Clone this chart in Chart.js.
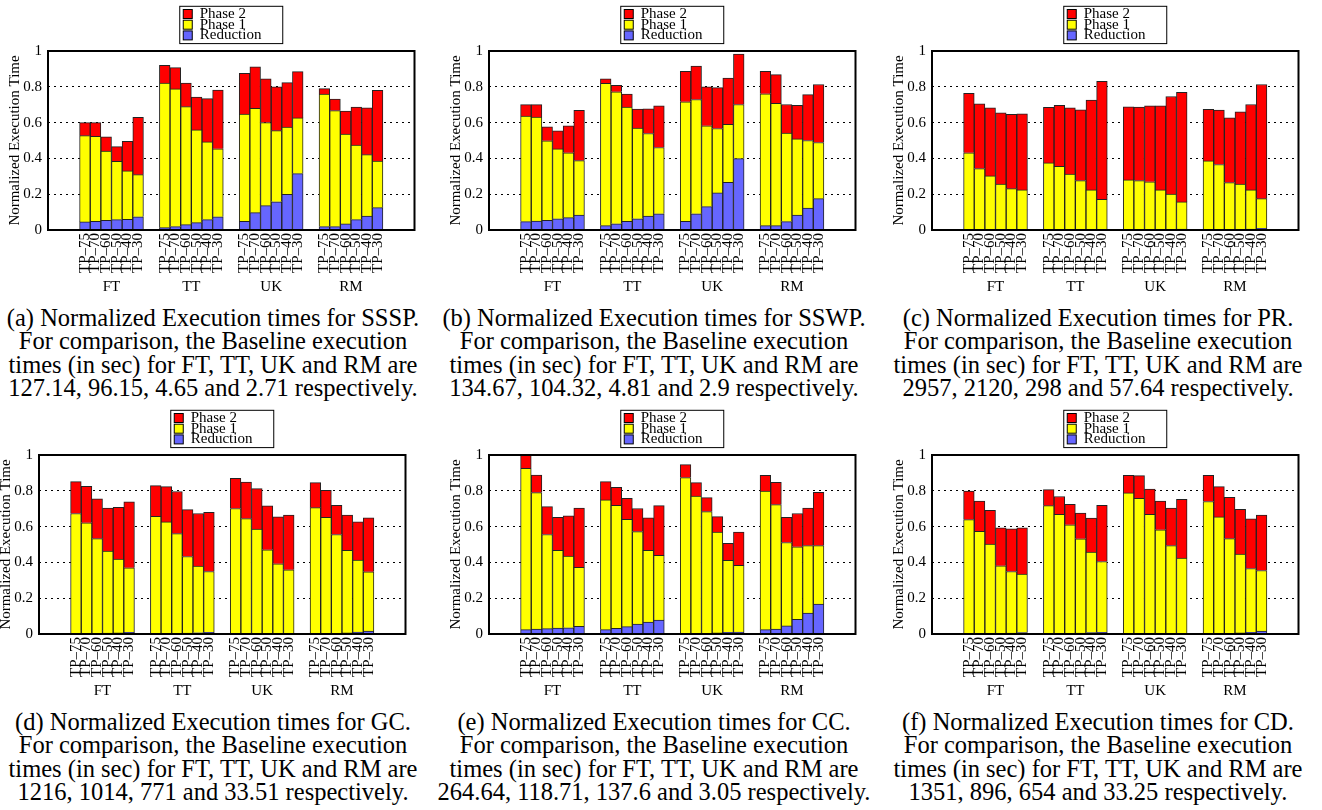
<!DOCTYPE html>
<html>
<head>
<meta charset="utf-8">
<script src="https://cdn.jsdelivr.net/npm/chart.js@4.4.1/dist/chart.umd.min.js"></script>
<style>
  body { margin: 0; background: #fff; width: 1322px; height: 810px; overflow: hidden; position: relative; }
  .panel { position: absolute; width: 440px; height: 300px; }
  .caption { position: absolute; width: 480px; text-align: center; font-family: 'Liberation Serif', serif; font-size: 24.5px; line-height: 23.3px; color: #000; white-space: nowrap; }
</style>
</head>
<body>
<div class="panel" style="left:0px;top:0px"><canvas id="cSSSP" width="440" height="300"></canvas></div>
<div class="panel" style="left:441px;top:0px"><canvas id="cSSWP" width="440" height="300"></canvas></div>
<div class="panel" style="left:884px;top:0px"><canvas id="cPR" width="440" height="300"></canvas></div>
<div class="panel" style="left:-9px;top:404px"><canvas id="cGC" width="440" height="300"></canvas></div>
<div class="panel" style="left:441px;top:404px"><canvas id="cCC" width="440" height="300"></canvas></div>
<div class="panel" style="left:884px;top:404px"><canvas id="cCD" width="440" height="300"></canvas></div>

<div class="caption" style="left:-27px;top:306px">(a) Normalized Execution times for SSSP.<br>For comparison, the Baseline execution<br>times (in sec) for FT, TT, UK and RM are<br>127.14, 96.15, 4.65 and 2.71 respectively.</div>
<div class="caption" style="left:414px;top:306px">(b) Normalized Execution times for SSWP.<br>For comparison, the Baseline execution<br>times (in sec) for FT, TT, UK and RM are<br>134.67, 104.32, 4.81 and 2.9 respectively.</div>
<div class="caption" style="left:858px;top:306px">(c) Normalized Execution times for PR.<br>For comparison, the Baseline execution<br>times (in sec) for FT, TT, UK and RM are<br>2957, 2120, 298 and 57.64 respectively.</div>
<div class="caption" style="left:-27px;top:710px">(d) Normalized Execution times for GC.<br>For comparison, the Baseline execution<br>times (in sec) for FT, TT, UK and RM are<br>1216, 1014, 771 and 33.51 respectively.</div>
<div class="caption" style="left:414px;top:710px">(e) Normalized Execution times for CC.<br>For comparison, the Baseline execution<br>times (in sec) for FT, TT, UK and RM are<br>264.64, 118.71, 137.6 and 3.05 respectively.</div>
<div class="caption" style="left:858px;top:710px">(f) Normalized Execution times for CD.<br>For comparison, the Baseline execution<br>times (in sec) for FT, TT, UK and RM are<br>1351, 896, 654 and 33.25 respectively.</div>

<script>
const graphs = ['FT', 'TT', 'UK', 'RM'];
const thresholds = ['TP–75', 'TP–70', 'TP–60', 'TP–50', 'TP–40', 'TP–30'];
const seriesNames = ['Reduction', 'Phase 1', 'Phase 2'];
const seriesColors = ['#6666ff', '#ffff00', '#ff0000'];

// each array: FT x6, TT x6, UK x6, RM x6 (segment heights, stacked)
const ssspRed = [0.045, 0.048, 0.054, 0.058, 0.06, 0.074,  0.013, 0.019, 0.03, 0.041, 0.058, 0.074,  0.048, 0.097, 0.136, 0.158, 0.199, 0.315,  0.019, 0.019, 0.034, 0.058, 0.078, 0.125];
const ssspP1  = [0.482, 0.475, 0.387, 0.326, 0.27, 0.235,  0.808, 0.769, 0.659, 0.518, 0.434, 0.38,  0.6, 0.583, 0.464, 0.397, 0.376, 0.311,  0.741, 0.648, 0.502, 0.417, 0.343, 0.26];
const ssspP2  = [0.073, 0.077, 0.08, 0.082, 0.165, 0.321,  0.099, 0.119, 0.132, 0.184, 0.242, 0.328,  0.227, 0.232, 0.245, 0.245, 0.248, 0.259,  0.03, 0.065, 0.129, 0.212, 0.262, 0.395];

const sswpRed = [0.047, 0.05, 0.054, 0.063, 0.069, 0.084,  0.024, 0.035, 0.049, 0.063, 0.078, 0.091,  0.048, 0.091, 0.131, 0.207, 0.267, 0.399,  0.024, 0.024, 0.047, 0.084, 0.123, 0.175];
const sswpP1  = [0.589, 0.581, 0.444, 0.39, 0.362, 0.304,  0.795, 0.737, 0.638, 0.506, 0.461, 0.37,  0.668, 0.638, 0.451, 0.36, 0.323, 0.302,  0.737, 0.683, 0.494, 0.425, 0.377, 0.314];
const sswpP2  = [0.064, 0.069, 0.078, 0.101, 0.151, 0.28,  0.026, 0.036, 0.072, 0.106, 0.138, 0.233,  0.17, 0.187, 0.218, 0.228, 0.259, 0.282,  0.125, 0.161, 0.16, 0.187, 0.256, 0.324];

const prRed = [0.001, 0.001, 0.001, 0.001, 0.001, 0.001,  0.001, 0.001, 0.001, 0.001, 0.002, 0.003,  0.001, 0.001, 0.001, 0.002, 0.003, 0.005,  0.001, 0.001, 0.002, 0.003, 0.005, 0.01];
const prP1  = [0.43, 0.342, 0.301, 0.256, 0.23, 0.223,  0.374, 0.355, 0.312, 0.275, 0.222, 0.169,  0.279, 0.275, 0.268, 0.222, 0.198, 0.152,  0.385, 0.365, 0.263, 0.254, 0.219, 0.165];
const prP2  = [0.332, 0.362, 0.381, 0.398, 0.415, 0.425,  0.31, 0.34, 0.37, 0.396, 0.502, 0.658,  0.408, 0.411, 0.425, 0.47, 0.545, 0.612,  0.288, 0.304, 0.362, 0.403, 0.477, 0.638];

const gcRed = [0.002, 0.002, 0.003, 0.005, 0.006, 0.009,  0.002, 0.002, 0.003, 0.005, 0.007, 0.01,  0.001, 0.001, 0.001, 0.001, 0.001, 0.001,  0.001, 0.001, 0.003, 0.006, 0.011, 0.016];
const gcP1  = [0.671, 0.619, 0.53, 0.458, 0.412, 0.361,  0.656, 0.624, 0.558, 0.428, 0.372, 0.339,  0.7, 0.644, 0.585, 0.469, 0.391, 0.358,  0.705, 0.651, 0.553, 0.462, 0.402, 0.332];
const gcP2  = [0.178, 0.204, 0.222, 0.241, 0.29, 0.368,  0.171, 0.197, 0.235, 0.262, 0.294, 0.331,  0.169, 0.204, 0.226, 0.246, 0.262, 0.305,  0.14, 0.151, 0.163, 0.196, 0.213, 0.301];

const ccRed = [0.024, 0.028, 0.03, 0.033, 0.035, 0.043,  0.024, 0.032, 0.041, 0.056, 0.067, 0.078,  0.002, 0.003, 0.004, 0.006, 0.009, 0.011,  0.024, 0.028, 0.045, 0.082, 0.117, 0.167];
const ccP1  = [0.902, 0.762, 0.526, 0.434, 0.4, 0.329,  0.725, 0.687, 0.6, 0.516, 0.4, 0.361,  0.872, 0.767, 0.68, 0.563, 0.402, 0.372,  0.775, 0.695, 0.466, 0.405, 0.377, 0.327];
const ccP2  = [0.074, 0.098, 0.156, 0.185, 0.225, 0.331,  0.102, 0.101, 0.117, 0.129, 0.182, 0.278,  0.072, 0.076, 0.078, 0.087, 0.095, 0.186,  0.088, 0.125, 0.141, 0.186, 0.209, 0.298];

const cdRed = [0.001, 0.001, 0.002, 0.003, 0.005, 0.008,  0.002, 0.002, 0.003, 0.005, 0.008, 0.01,  0.001, 0.001, 0.001, 0.001, 0.001, 0.001,  0.001, 0.001, 0.002, 0.006, 0.01, 0.016];
const cdP1  = [0.638, 0.573, 0.5, 0.378, 0.344, 0.327,  0.715, 0.667, 0.607, 0.527, 0.449, 0.395,  0.787, 0.757, 0.668, 0.581, 0.493, 0.423,  0.739, 0.653, 0.531, 0.44, 0.356, 0.339];
const cdP2  = [0.16, 0.169, 0.189, 0.212, 0.238, 0.258,  0.09, 0.099, 0.115, 0.143, 0.19, 0.314,  0.099, 0.127, 0.14, 0.161, 0.21, 0.329,  0.147, 0.169, 0.231, 0.251, 0.277, 0.309];

// x slots: 2.25 margin, 6 bars per group, 1.5 gap between groups
const barPos = [];
const groupCenters = [];
graphs.forEach((g, gi) => {
  groupCenters.push(2.25 + gi * 7.5 + 3);
  thresholds.forEach((t, ti) => barPos.push(2.75 + gi * 7.5 + ti));
});

const serif = 'Liberation Serif';

const framePlugin = {
  id: 'frame',
  afterDatasetsDraw(chart) {
    const { ctx, chartArea: a } = chart;
    ctx.save();
    ctx.strokeStyle = '#000';
    ctx.lineWidth = 2;
    ctx.strokeRect(a.left, a.top, a.right - a.left, a.bottom - a.top);
    ctx.restore();
  }
};

const extrasPlugin = {
  id: 'extras',
  afterDraw(chart) {
    const { ctx, chartArea: a, scales } = chart;
    ctx.save();
    // group names under the tick labels
    ctx.font = '15px "' + serif + '"';
    ctx.fillStyle = '#000';
    ctx.textAlign = 'center';
    ctx.textBaseline = 'middle';
    groupCenters.forEach((c, i) => {
      ctx.fillText(graphs[i], scales.x.getPixelForValue(c), a.bottom + 57);
    });
    // boxed legend above the plot
    const w = 103, h = 37.3;
    const x0 = (a.left + a.right) / 2 - w / 2;
    const y0 = a.top - 44.7;
    ctx.fillStyle = '#fff';
    ctx.fillRect(x0, y0, w, h);
    ctx.strokeStyle = '#000';
    ctx.lineWidth = 1;
    ctx.strokeRect(x0, y0, w, h);
    ctx.textAlign = 'left';
    chart.data.datasets.slice().reverse().forEach((ds, i) => {
      const yc = y0 + 7.7 + i * 10.7;
      ctx.fillStyle = ds.backgroundColor;
      ctx.fillRect(x0 + 3.5, yc - 4.5, 9, 9);
      ctx.strokeRect(x0 + 3.5, yc - 4.5, 9, 9);
      ctx.fillStyle = '#000';
      ctx.fillText(ds.label, x0 + 20, yc);
    });
    ctx.restore();
  }
};

function makeChart(id, red, p1, p2) {
  const values = [red, p1, p2];
  new Chart(document.getElementById(id), {
    type: 'bar',
    data: {
      datasets: seriesNames.map((name, k) => ({
        label: name,
        data: values[k].map((v, i) => ({ x: barPos[i], y: v })),
        backgroundColor: seriesColors[k],
        borderColor: '#222',
        borderWidth: 1,
        barPercentage: 1,
        categoryPercentage: 1
      }))
    },
    options: {
      responsive: false,
      animation: false,
      devicePixelRatio: 1,
      layout: { padding: { top: 51, right: 25.5, bottom: 0, left: 0 } },
      plugins: { legend: { display: false }, tooltip: { enabled: false } },
      scales: {
        x: {
          type: 'linear',
          stacked: true,
          min: 0,
          max: 33,
          afterBuildTicks: s => { s.ticks = barPos.map(v => ({ value: v })); },
          afterFit: s => { s.height = 70; },
          grid: { display: false, drawTicks: false },
          border: { display: false },
          ticks: {
            autoSkip: false,
            minRotation: 90,
            maxRotation: 90,
            padding: 3,
            color: '#000',
            font: { family: serif, size: 15 },
            callback: (v, i) => thresholds[i % thresholds.length]
          }
        },
        y: {
          stacked: true,
          min: 0,
          max: 1,
          afterFit: s => { s.width = 48; },
          grid: { color: '#000', lineWidth: 1, drawTicks: false },
          border: { display: false, dash: [2, 4] },
          ticks: {
            stepSize: 0.2,
            padding: 6,
            color: '#000',
            font: { family: serif, size: 15 },
            callback: v => (v === 0 || v === 1) ? String(v) : v.toFixed(1)
          },
          title: {
            display: true,
            text: 'Normalized Execution Time',
            color: '#000',
            font: { family: serif, size: 15 },
            padding: { top: 6, bottom: 0 }
          }
        }
      }
    },
    plugins: [framePlugin, extrasPlugin]
  });
}

makeChart('cSSSP', ssspRed, ssspP1, ssspP2);
makeChart('cSSWP', sswpRed, sswpP1, sswpP2);
makeChart('cPR', prRed, prP1, prP2);
makeChart('cGC', gcRed, gcP1, gcP2);
makeChart('cCC', ccRed, ccP1, ccP2);
makeChart('cCD', cdRed, cdP1, cdP2);
</script>
</body>
</html>
